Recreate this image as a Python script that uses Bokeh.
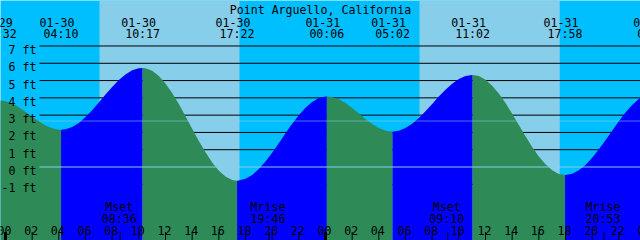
from bokeh.plotting import figure
from bokeh.models import Range1d
from bokeh.embed import file_html
from bokeh.resources import INLINE
from bokeh.core.properties import value

# ---------------- data ----------------
title = "Point Arguello, California"

extreme_dates = ["01-29", "01-30", "01-30", "01-30", "01-31", "01-31", "01-31", "01-31", "02-01"]
extreme_times = ["23:32", "04:10", "10:17", "17:22", "00:06", "05:02", "11:02", "17:58", "00:41"]
extreme_heights = [3.85, 2.15, 5.73, -0.79, 4.08, 2.04, 5.32, -0.46, 4.28]

# tide height (ft) at each whole hour from 01-30 00:00 to 02-01 00:00
hourly_heights = [3.81, 3.46, 2.91, 2.40, 2.16, 2.31, 2.89, 3.73, 4.63, 5.35,
                  5.71, 5.57, 4.83, 3.64, 2.22, 0.85, -0.21, -0.75, -0.68, -0.12,
                  0.83, 1.95, 3.00, 3.76, 4.08, 3.92, 3.42, 2.78, 2.25, 2.04,
                  2.25, 2.83, 3.65, 4.47, 5.09, 5.32, 5.05, 4.25, 3.08, 1.78,
                  0.61, -0.19, -0.46, -0.19, 0.53, 1.55, 2.65, 3.58, 4.16]

# tide height (ft) at each half hour (00:30, 01:30, ...) from 01-30 00:30
half_hour_heights = [3.67, 3.20, 2.64, 2.24, 2.18, 2.55, 3.29, 4.19, 5.03, 5.59,
                     5.71, 5.27, 4.28, 2.94, 1.51, 0.26, -0.55, -0.78, -0.46, 0.32,
                     1.38, 2.50, 3.43, 3.99, 4.05, 3.70, 3.10, 2.49, 2.10, 2.09,
                     2.50, 3.23, 4.08, 4.82, 5.26, 5.26, 4.70, 3.70, 2.43, 1.16,
                     0.16, -0.40, -0.39, 0.12, 1.02, 2.10, 3.15, 3.93]

sunrise_dates = ["01-30", "01-31"]
sunrise_times = ["07:03", "07:03"]
sunset_dates = ["01-30", "01-31"]
sunset_times = ["17:33", "17:34"]

moon_events = ["Mset", "Mrise", "Mset", "Mrise"]
moon_dates = ["01-30", "01-30", "01-31", "01-31"]
moon_times = ["08:36", "19:46", "09:10", "20:53"]

depth_levels = [-1, 0, 1, 2, 3, 4, 5, 6, 7]
mean_sea_level = 2.66
hour_ticks = list(range(0, 49, 2))

# ---------------- styling / layout ----------------
NIGHT = "#00BFFF"
DAY = "#87CEEB"
FLOOD = "#0000FF"
EBB = "#2E8B57"
FONT = "DejaVu Sans Mono"
FS = "11.6px"

W, H = 640, 240
PX_PER_HOUR = 40.0 / 3.0
X0_PX = 5.0
ZERO_PX = 166.5
FT_PX = 17.286
LINE_START_PX = 39.0

DAY0 = {"01-29": -24.0, "01-30": 0.0, "01-31": 24.0, "02-01": 48.0}


def hours(d, t):
    hh, mm = t.split(":")
    return DAY0[d] + int(hh) + int(mm) / 60.0


x_start = -X0_PX / PX_PER_HOUR
x_end = x_start + W / PX_PER_HOUR
y_top = ZERO_PX / FT_PX
y_bot = -(H - ZERO_PX) / FT_PX

p = figure(width=W, height=H, x_range=Range1d(x_start, x_end),
           y_range=Range1d(y_bot, y_top), output_backend="svg",
           toolbar_location=None, x_axis_location=None, y_axis_location=None,
           min_border=0, outline_line_color=None,
           background_fill_color=NIGHT, border_fill_color=NIGHT)
p.xgrid.visible = False
p.ygrid.visible = False
p.extra_x_ranges = {"px": Range1d(0, W)}
p.extra_y_ranges = {"px": Range1d(H, 0)}

# day background
rise_h = [hours(d, t) for d, t in zip(sunrise_dates, sunrise_times)]
set_h = [hours(d, t) for d, t in zip(sunset_dates, sunset_times)]
p.quad(left=rise_h, right=set_h, bottom=y_bot - 1, top=y_top + 1,
       fill_color=DAY, line_color=None)

# depth lines (behind water)
xl = x_start + LINE_START_PX / PX_PER_HOUR
black_levels = [l for l in depth_levels if l != 0]
p.segment(x0=[xl] * len(black_levels), x1=[x_end + 1] * len(black_levels),
          y0=black_levels, y1=black_levels, line_color="black", line_width=1)

# water
ext_h = [hours(d, t) for d, t in zip(extreme_dates, extreme_times)]
pts = sorted(list(zip(ext_h, extreme_heights)) +
             [(float(i), v) for i, v in enumerate(hourly_heights)] +
             [(i + 0.5, v) for i, v in enumerate(half_hour_heights)])
for k in range(len(ext_h) - 1):
    t1, t2 = ext_h[k], ext_h[k + 1]
    seg = [(t, v) for t, v in pts if t1 <= t <= t2]
    color = FLOOD if extreme_heights[k + 1] > extreme_heights[k] else EBB
    p.varea(x=[s[0] for s in seg], y1=[y_bot - 1] * len(seg),
            y2=[s[1] for s in seg], fill_color=color)

# datum and mean sea level lines
p.segment(x0=[xl], x1=[x_end + 1], y0=[0], y1=[0], line_color=DAY, line_width=1)
p.segment(x0=[xl], x1=[x_end + 1], y0=[mean_sea_level], y1=[mean_sea_level],
          line_color=DAY, line_alpha=0.55, line_width=1)

txt = dict(text_font=value(FONT), text_font_size=FS, text_color="black",
           text_baseline="alphabetic")

# depth labels
lab_y = [ZERO_PX - l * FT_PX + 4.0 for l in depth_levels]
p.text(x=[36] * len(depth_levels), y=lab_y,
       text=["%d ft" % l for l in depth_levels],
       x_range_name="px", y_range_name="px", text_align="right", **txt)

# title
p.text(x=[W / 2], y=[9.5], text=[title], x_range_name="px", y_range_name="px",
       text_align="center", **txt)

# extreme labels
p.text(x=ext_h, y=[21.7] * len(ext_h), text=extreme_dates, y_range_name="px",
       text_align="center", x_offset=-4, **txt)
p.text(x=ext_h, y=[33.7] * len(ext_h), text=extreme_times, y_range_name="px",
       text_align="center", **txt)

# moon labels
moon_h = [hours(d, t) for d, t in zip(moon_dates, moon_times)]
p.text(x=moon_h, y=[206] * len(moon_h), text=moon_events, y_range_name="px",
       text_align="center", x_offset=-1, **txt)
p.text(x=moon_h, y=[218] * len(moon_h), text=moon_times, y_range_name="px",
       text_align="center", x_offset=-1, **txt)

# hour labels
p.text(x=hour_ticks, y=[230] * len(hour_ticks),
       text=["%02d" % (h % 24) for h in hour_ticks], y_range_name="px",
       text_align="center", x_offset=-1, **txt)

# ticks
p.segment(x0=hour_ticks, x1=hour_ticks, y0=[231.5] * len(hour_ticks),
          y1=[241] * len(hour_ticks), y_range_name="px",
          line_color="black", line_width=1)
mid = [h for h in hour_ticks if h % 24 == 0]
p.segment(x0=mid, x1=mid, y0=[231.5] * len(mid), y1=[241] * len(mid),
          y_range_name="px", line_color="black", line_width=3)
p.segment(x0=moon_h, x1=moon_h, y0=[231.5] * len(moon_h), y1=[241] * len(moon_h),
          y_range_name="px", line_color="black", line_width=1)

open("out.html", "w").write(file_html(p, INLINE))
